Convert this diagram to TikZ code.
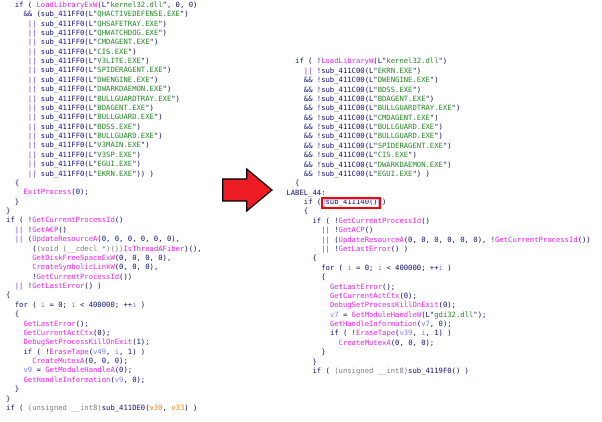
\documentclass[tikz,border=0pt]{standalone}
\usepackage{fontspec}
\newfontfamily\idamono{DejaVu Sans Mono}
\definecolor{idatext}{RGB}{20,20,120}
\definecolor{idafn}{RGB}{235,35,235}
\definecolor{idastr}{RGB}{35,135,35}
\definecolor{idavar}{RGB}{125,125,250}
\definecolor{idaarg}{RGB}{250,130,20}
\definecolor{idagray}{RGB}{125,125,125}
\definecolor{idabar}{RGB}{120,55,220}
\definecolor{arrowred}{RGB}{237,28,36}
\newcommand{\fnc}[1]{\textcolor{idafn}{#1}}
\newcommand{\strg}[1]{\textcolor{idastr}{#1}}
\newcommand{\lvar}[1]{\textcolor{idavar}{#1}}
\newcommand{\argv}[1]{\textcolor{idaarg}{#1}}
\newcommand{\gry}[1]{\textcolor{idagray}{#1}}
\newcommand{\bars}{\textcolor{idabar}{||}}
\tikzset{code/.style={anchor=base west, inner sep=0pt, font=\idamono\fontsize{7.22pt}{9pt}\selectfont, text=idatext}}
\begin{document}
\begin{tikzpicture}[x=1pt,y=-1pt]
\fill[white] (0,0) rectangle (602,422);
\useasboundingbox (0,0) rectangle (602,422);
% old version
\begin{scope}[x=4.35pt,y=-9.375pt,shift={(6pt,-7.3pt)}]
\node[code] (l1) at (2,0) {if ( \fnc{LoadLibraryExW}(L"\strg{kernel32.dll}", 0, 0)};
\node[code] (l2) at (4,1) {\&\& (sub\_411FF0(L"\strg{QHACTIVEDEFENSE.EXE}")};
\node[code] (l3) at (5,2) {\bars{} sub\_411FF0(L"\strg{QHSAFETRAY.EXE}")};
\node[code] (l4) at (5,3) {\bars{} sub\_411FF0(L"\strg{QHWATCHDOG.EXE}")};
\node[code] (l5) at (5,4) {\bars{} sub\_411FF0(L"\strg{CMDAGENT.EXE}")};
\node[code] (l6) at (5,5) {\bars{} sub\_411FF0(L"\strg{CIS.EXE}")};
\node[code] (l7) at (5,6) {\bars{} sub\_411FF0(L"\strg{V3LITE.EXE}")};
\node[code] (l8) at (5,7) {\bars{} sub\_411FF0(L"\strg{SPIDERAGENT.EXE}")};
\node[code] (l9) at (5,8) {\bars{} sub\_411FF0(L"\strg{DWENGINE.EXE}")};
\node[code] (l10) at (5,9) {\bars{} sub\_411FF0(L"\strg{DWARKDAEMON.EXE}")};
\node[code] (l11) at (5,10) {\bars{} sub\_411FF0(L"\strg{BULLGUARDTRAY.EXE}")};
\node[code] (l12) at (5,11) {\bars{} sub\_411FF0(L"\strg{BDAGENT.EXE}")};
\node[code] (l13) at (5,12) {\bars{} sub\_411FF0(L"\strg{BULLGUARD.EXE}")};
\node[code] (l14) at (5,13) {\bars{} sub\_411FF0(L"\strg{BDSS.EXE}")};
\node[code] (l15) at (5,14) {\bars{} sub\_411FF0(L"\strg{BULLGUARD.EXE}")};
\node[code] (l16) at (5,15) {\bars{} sub\_411FF0(L"\strg{V3MAIN.EXE}")};
\node[code] (l17) at (5,16) {\bars{} sub\_411FF0(L"\strg{V3SP.EXE}")};
\node[code] (l18) at (5,17) {\bars{} sub\_411FF0(L"\strg{EGUI.EXE}")};
\node[code] (l19) at (5,18) {\bars{} sub\_411FF0(L"\strg{EKRN.EXE}")) )};
\node[code] (l20) at (2,19) {\{};
\node[code] (l21) at (4,20) {\fnc{ExitProcess}(0);};
\node[code] (l22) at (2,21) {\}};
\node[code] (l23) at (0,22) {\}};
\node[code] (l24) at (0,23) {if ( !\fnc{GetCurrentProcessId}()};
\node[code] (l25) at (2,24) {\bars{} !\fnc{GetACP}()};
\node[code] (l26) at (2,25) {\bars{} (\fnc{UpdateResourceA}(0, 0, 0, 0, 0, 0),};
\node[code] (l27) at (6,26) {(\gry{(void (\_\_cdecl *)())}\fnc{IsThreadAFiber})(),};
\node[code] (l28) at (6,27) {\fnc{GetDiskFreeSpaceExW}(0, 0, 0, 0),};
\node[code] (l29) at (6,28) {\fnc{CreateSymbolicLinkW}(0, 0, 0),};
\node[code] (l30) at (6,29) {!\fnc{GetCurrentProcessId}())};
\node[code] (l31) at (2,30) {\bars{} !\fnc{GetLastError}() )};
\node[code] (l32) at (0,31) {\{};
\node[code] (l33) at (2,32) {for ( \lvar{i} = 0; \lvar{i} < 400000; ++\lvar{i} )};
\node[code] (l34) at (2,33) {\{};
\node[code] (l35) at (4,34) {\fnc{GetLastError}();};
\node[code] (l36) at (4,35) {\fnc{GetCurrentActCtx}(0);};
\node[code] (l37) at (4,36) {\fnc{DebugSetProcessKillOnExit}(1);};
\node[code] (l38) at (4,37) {if ( !\fnc{EraseTape}(\lvar{v49}, \lvar{i}, 1) )};
\node[code] (l39) at (6,38) {\fnc{CreateMutexA}(0, 0, 0);};
\node[code] (l40) at (4,39) {\lvar{v9} = \fnc{GetModuleHandleA}(0);};
\node[code] (l41) at (4,40) {\fnc{GetHandleInformation}(\lvar{v9}, 0);};
\node[code] (l42) at (2,41) {\}};
\node[code] (l43) at (0,42) {\}};
\node[code] (l44) at (0,43) {if ( \gry{(unsigned \_\_int8)}sub\_411DE0(\argv{v30}, \argv{v33}) )};
\end{scope}
% new version
\begin{scope}[x=4.35pt,y=-9.375pt,shift={(295pt,-64pt)}]
\node[code] (r1) at (0,0) {if ( !\fnc{LoadLibraryW}(L"\strg{kernel32.dll}")};
\node[code] (r2) at (2,1) {\bars{} !sub\_411C00(L"\strg{EKRN.EXE}")};
\node[code] (r3) at (2,2) {\&\& !sub\_411C00(L"\strg{DWENGINE.EXE}")};
\node[code] (r4) at (2,3) {\&\& !sub\_411C00(L"\strg{BDSS.EXE}")};
\node[code] (r5) at (2,4) {\&\& !sub\_411C00(L"\strg{BDAGENT.EXE}")};
\node[code] (r6) at (2,5) {\&\& !sub\_411C00(L"\strg{BULLGUARDTRAY.EXE}")};
\node[code] (r7) at (2,6) {\&\& !sub\_411C00(L"\strg{CMDAGENT.EXE}")};
\node[code] (r8) at (2,7) {\&\& !sub\_411C00(L"\strg{BULLGUARD.EXE}")};
\node[code] (r9) at (2,8) {\&\& !sub\_411C00(L"\strg{BULLGUARD.EXE}")};
\node[code] (r10) at (2,9) {\&\& !sub\_411C00(L"\strg{SPIDERAGENT.EXE}")};
\node[code] (r11) at (2,10) {\&\& !sub\_411C00(L"\strg{CIS.EXE}")};
\node[code] (r12) at (2,11) {\&\& !sub\_411C00(L"\strg{DWARKDAEMON.EXE}")};
\node[code] (r13) at (2,12) {\&\& !sub\_411C00(L"\strg{EGUI.EXE}") )};
\node[code] (r14) at (0,13) {\{};
\node[code] (r15) at (-2,14) {LABEL\_44:};
\node[code] (r16) at (2,15) {if ( sub\_411140() )};
\node[code] (r17) at (2,16) {\{};
\node[code] (r18) at (4,17) {if ( !\fnc{GetCurrentProcessId}()};
\node[code] (r19) at (6,18) {\bars{} !\fnc{GetACP}()};
\node[code] (r20) at (6,19) {\bars{} (\fnc{UpdateResourceA}(0, 0, 0, 0, 0, 0), !\fnc{GetCurrentProcessId}())};
\node[code] (r21) at (6,20) {\bars{} !\fnc{GetLastError}() )};
\node[code] (r22) at (4,21) {\{};
\node[code] (r23) at (6,22) {for ( \lvar{i} = 0; \lvar{i} < 400000; ++\lvar{i} )};
\node[code] (r24) at (6,23) {\{};
\node[code] (r25) at (8,24) {\fnc{GetLastError}();};
\node[code] (r26) at (8,25) {\fnc{GetCurrentActCtx}(0);};
\node[code] (r27) at (8,26) {\fnc{DebugSetProcessKillOnExit}(0);};
\node[code] (r28) at (8,27) {\lvar{v7} = \fnc{GetModuleHandleW}(L"\strg{gdi32.dll}");};
\node[code] (r29) at (8,28) {\fnc{GetHandleInformation}(\lvar{v7}, 0);};
\node[code] (r30) at (8,29) {if ( !\fnc{EraseTape}(\lvar{v39}, \lvar{i}, 1) )};
\node[code] (r31) at (10,30) {\fnc{CreateMutexA}(0, 0, 0);};
\node[code] (r32) at (6,31) {\}};
\node[code] (r33) at (4,32) {\}};
\node[code] (r34) at (4,33) {if ( \gry{(unsigned \_\_int8)}sub\_4119F0() )};
\end{scope}
% highlight round the call
\draw[blue!25,line width=0.5pt] (324,199.2) rectangle (378.2,207);
\draw[red,line width=2pt] (322,197.7) rectangle (380,208.3);
% arrow
\draw[fill=arrowred,line width=1.2pt,line join=miter] (222.7,179) -- (246.7,179) -- (246.7,169) -- (272,190) -- (246.7,211) -- (246.7,201) -- (222.7,201) -- cycle;
\end{tikzpicture}
\end{document}
